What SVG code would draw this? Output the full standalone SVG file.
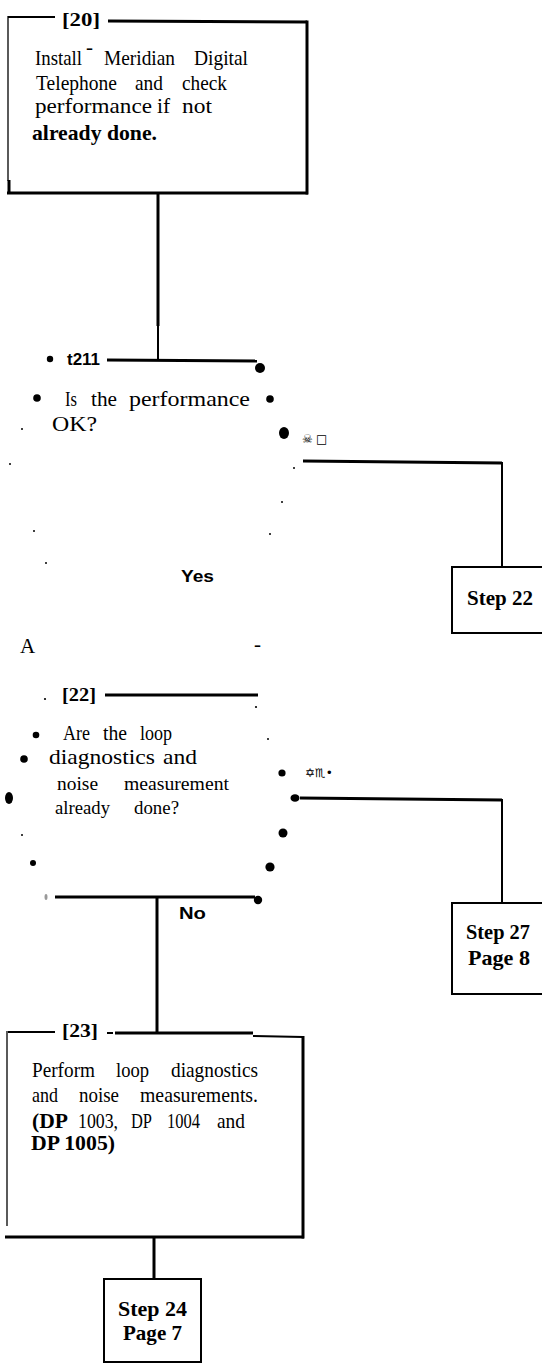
<svg xmlns="http://www.w3.org/2000/svg" width="542" height="1364" viewBox="0 0 542 1364">
<style>
.ln{stroke:#000;stroke-width:3;fill:none;stroke-linecap:butt}
.m{stroke-width:2}
.th{stroke-width:1.3}
.t{font-family:"Liberation Serif","Times New Roman",serif;font-size:21px;fill:#000}
.ts{font-family:"Liberation Serif","Times New Roman",serif;font-size:19px;fill:#000}
.tb{font-family:"Liberation Serif","Times New Roman",serif;font-size:21px;font-weight:bold;fill:#000}
.lab{font-family:"Liberation Serif","Times New Roman",serif;font-size:19px;font-weight:bold;fill:#000}
.sb{font-family:"Liberation Sans",Arial,sans-serif;font-size:17px;font-weight:bold;fill:#000}
.sym{font-family:"DejaVu Sans",sans-serif;font-size:12px;fill:#000}
.box{fill:none;stroke:#000;stroke-width:2}
.d{fill:#000}
</style>
<rect width="542" height="1364" fill="#fff"/>

<g id="node-20">
  <line class="ln m" x1="8" y1="17" x2="55" y2="17"/>
  <text class="lab" x="62" y="26" textLength="38" lengthAdjust="spacingAndGlyphs">[20]</text>
  <line class="ln" x1="108" y1="21" x2="307" y2="22"/>
  <line class="ln" x1="307" y1="20.5" x2="307" y2="194.5"/>
  <line class="ln" x1="7" y1="193" x2="308" y2="193"/>
  <line class="ln th" x1="8" y1="16" x2="8" y2="181"/>
  <line class="ln" x1="9" y1="180" x2="9" y2="194"/>
  <text class="t" x="35" y="65" textLength="47" lengthAdjust="spacingAndGlyphs">Install</text>
  <text class="t" x="86" y="54" font-size="10">-</text>
  <text class="t" x="104" y="65" textLength="71" lengthAdjust="spacingAndGlyphs">Meridian</text>
  <text class="t" x="194" y="65" textLength="54" lengthAdjust="spacingAndGlyphs">Digital</text>
  <text class="t" x="36" y="90" textLength="81" lengthAdjust="spacingAndGlyphs">Telephone</text>
  <text class="t" x="135" y="90" textLength="28" lengthAdjust="spacingAndGlyphs">and</text>
  <text class="t" x="182" y="90" textLength="45" lengthAdjust="spacingAndGlyphs">check</text>
  <text class="t" x="35" y="113" textLength="117" lengthAdjust="spacingAndGlyphs">performance</text>
  <text class="t" x="157" y="113" textLength="13" lengthAdjust="spacingAndGlyphs">if</text>
  <text class="t" x="182" y="113" textLength="30" lengthAdjust="spacingAndGlyphs">not</text>
  <text class="tb" x="32" y="140" textLength="125" lengthAdjust="spacingAndGlyphs">already done.</text>
</g>

<g id="connectors">
  <line class="ln" x1="158" y1="193" x2="158" y2="326"/>
  <line class="ln m" x1="158" y1="326" x2="158" y2="360"/>
  <line class="ln" x1="107" y1="360" x2="257" y2="361"/>
  <line class="ln" x1="303" y1="461" x2="502" y2="463"/>
  <line class="ln m" x1="502" y1="462" x2="502" y2="567"/>
  <line class="ln" x1="105" y1="695" x2="258" y2="695"/>
  <line class="ln" x1="300" y1="798" x2="502" y2="800"/>
  <line class="ln m" x1="502" y1="799" x2="502" y2="903"/>
  <line class="ln" x1="55" y1="897" x2="255" y2="897"/>
  <line class="ln" x1="157" y1="897" x2="157" y2="1033"/>
  <line class="ln" x1="154" y1="1237" x2="154" y2="1279"/>
</g>

<g id="node-21">
  <circle class="d" cx="50" cy="359" r="3.2"/>
  <text class="sb" x="67" y="365" font-size="15" textLength="33" lengthAdjust="spacingAndGlyphs">t211</text>
  <circle class="d" cx="260" cy="368" r="5"/>
  <circle class="d" cx="37" cy="398" r="3.8"/>
  <circle class="d" cx="270" cy="399" r="3.8"/>
  <circle class="d" cx="22" cy="429" r="1"/>
  <ellipse class="d" cx="284" cy="433" rx="5" ry="6"/>
  <circle class="d" cx="10" cy="464" r="1"/>
  <circle class="d" cx="294" cy="468" r="1"/>
  <circle class="d" cx="282" cy="502" r="1"/>
  <circle class="d" cx="34" cy="531" r="1"/>
  <circle class="d" cx="270" cy="534" r="1"/>
  <circle class="d" cx="46" cy="563" r="1"/>
  <text class="t" x="65" y="406" textLength="12" lengthAdjust="spacingAndGlyphs">Is</text>
  <text class="t" x="91" y="406" textLength="26" lengthAdjust="spacingAndGlyphs">the</text>
  <text class="t" x="129" y="406" textLength="121" lengthAdjust="spacingAndGlyphs">performance</text>
  <text class="t" x="52" y="431" textLength="45" lengthAdjust="spacingAndGlyphs">OK?</text>
  <text class="sym" x="302" y="443">☠</text>
  <text class="sym" x="316" y="443" font-size="14">□</text>
  <text class="sb" x="181" y="582" textLength="33" lengthAdjust="spacingAndGlyphs">Yes</text>
  <text class="t" x="20" y="653" font-size="20">A</text>
  <text class="t" x="254" y="651" font-size="16">-</text>
</g>

<g id="step-22">
  <rect class="box" x="452" y="567" width="100" height="66"/>
  <text class="tb" x="467" y="605" font-size="22" textLength="66" lengthAdjust="spacingAndGlyphs">Step 22</text>
</g>

<g id="node-22">
  <circle class="d" cx="45" cy="699" r="1.1"/>
  <text class="lab" x="62" y="701" textLength="34" lengthAdjust="spacingAndGlyphs">[22]</text>
  <circle class="d" cx="256" cy="707" r="1.1"/>
  <circle class="d" cx="36" cy="735" r="3.3"/>
  <circle class="d" cx="268" cy="739" r="1"/>
  <circle class="d" cx="24" cy="759" r="3.8"/>
  <circle class="d" cx="282" cy="773" r="3.6"/>
  <ellipse class="d" cx="9" cy="798" rx="4" ry="6"/>
  <ellipse class="d" cx="295" cy="798" rx="4.5" ry="3.8"/>
  <circle class="d" cx="22" cy="835" r="1"/>
  <circle class="d" cx="283" cy="833" r="4.5"/>
  <circle class="d" cx="33" cy="863" r="3"/>
  <circle class="d" cx="270" cy="867" r="4.6"/>
  <ellipse cx="46" cy="897" rx="1.5" ry="3" fill="#999"/>
  <circle class="d" cx="258" cy="900" r="4.2"/>
  <text class="t" x="63" y="740" textLength="27" lengthAdjust="spacingAndGlyphs">Are</text>
  <text class="t" x="103" y="740" textLength="24" lengthAdjust="spacingAndGlyphs">the</text>
  <text class="t" x="140" y="740" textLength="32" lengthAdjust="spacingAndGlyphs">loop</text>
  <text class="t" x="49" y="764" textLength="106" lengthAdjust="spacingAndGlyphs">diagnostics</text>
  <text class="t" x="163" y="764" textLength="34" lengthAdjust="spacingAndGlyphs">and</text>
  <text class="ts" x="57" y="790" textLength="41" lengthAdjust="spacingAndGlyphs">noise</text>
  <text class="ts" x="124" y="790" textLength="105" lengthAdjust="spacingAndGlyphs">measurement</text>
  <text class="ts" x="55" y="814" textLength="55" lengthAdjust="spacingAndGlyphs">already</text>
  <text class="ts" x="134" y="814" textLength="45" lengthAdjust="spacingAndGlyphs">done?</text>
  <text class="sym" x="305" y="777">✡♏•</text>
  <text class="sb" x="179" y="919" textLength="27" lengthAdjust="spacingAndGlyphs">No</text>
</g>

<g id="step-27">
  <rect class="box" x="452" y="903" width="100" height="91"/>
  <text class="tb" x="466" y="939" font-size="22" textLength="64" lengthAdjust="spacingAndGlyphs">Step 27</text>
  <text class="tb" x="468" y="965" font-size="22" textLength="62" lengthAdjust="spacingAndGlyphs">Page 8</text>
</g>

<g id="node-23">
  <line class="ln m" x1="8" y1="1032" x2="55" y2="1032"/>
  <text class="lab" x="62" y="1037" textLength="36" lengthAdjust="spacingAndGlyphs">[23]</text>
  <line class="ln m" x1="107" y1="1033" x2="113" y2="1033"/>
  <line class="ln" x1="115" y1="1033" x2="253" y2="1033"/>
  <line class="ln m" x1="253" y1="1036" x2="303" y2="1037"/>
  <line class="ln" x1="303" y1="1036" x2="303" y2="1238.5"/>
  <line class="ln" x1="5" y1="1237" x2="304" y2="1237"/>
  <line class="ln th" x1="7" y1="1031" x2="7" y2="1226"/>
  <text class="t" x="32" y="1077" textLength="63" lengthAdjust="spacingAndGlyphs">Perform</text>
  <text class="t" x="116" y="1077" textLength="33" lengthAdjust="spacingAndGlyphs">loop</text>
  <text class="t" x="171" y="1077" textLength="87" lengthAdjust="spacingAndGlyphs">diagnostics</text>
  <text class="t" x="32" y="1102" textLength="26" lengthAdjust="spacingAndGlyphs">and</text>
  <text class="t" x="79" y="1102" textLength="40" lengthAdjust="spacingAndGlyphs">noise</text>
  <text class="t" x="140" y="1102" textLength="118" lengthAdjust="spacingAndGlyphs">measurements.</text>
  <text class="tb" x="32" y="1128" textLength="36" lengthAdjust="spacingAndGlyphs">(DP</text>
  <text class="t" x="78" y="1128" textLength="40" lengthAdjust="spacingAndGlyphs">1003,</text>
  <text class="t" x="131" y="1128" textLength="21" lengthAdjust="spacingAndGlyphs">DP</text>
  <text class="t" x="167" y="1128" textLength="33" lengthAdjust="spacingAndGlyphs">1004</text>
  <text class="t" x="217" y="1128" textLength="28" lengthAdjust="spacingAndGlyphs">and</text>
  <text class="tb" x="31" y="1150" textLength="84" lengthAdjust="spacingAndGlyphs">DP 1005)</text>
</g>

<g id="step-24">
  <rect class="box" x="104" y="1279" width="97" height="83"/>
  <text class="tb" x="118" y="1316" font-size="20" textLength="69" lengthAdjust="spacingAndGlyphs">Step 24</text>
  <text class="tb" x="123" y="1340" font-size="20" textLength="59" lengthAdjust="spacingAndGlyphs">Page 7</text>
</g>
</svg>
